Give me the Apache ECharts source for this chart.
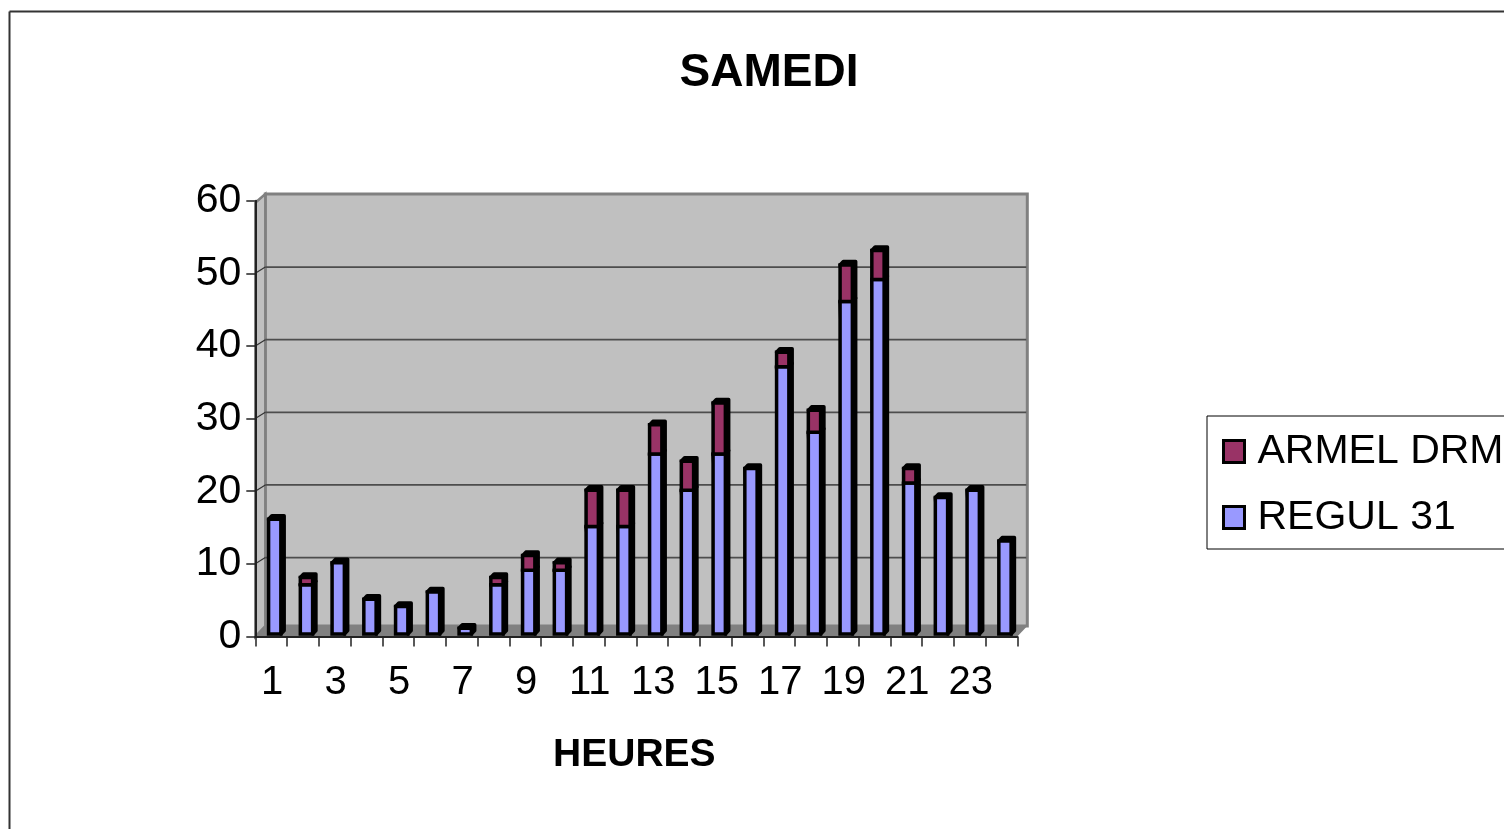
<!DOCTYPE html>
<html>
<head>
<meta charset="utf-8">
<style>html,body{margin:0;padding:0;background:#fff;overflow:hidden}#c{width:1504px;height:829px}</style>
<script src="https://cdn.jsdelivr.net/npm/echarts@6/dist/echarts.min.js"></script>
</head>
<body>
<div id="c"></div>
<script>
const hours = ['1','2','3','4','5','6','7','8','9','10','11','12','13','14','15','16','17','18','19','20','21','22','23','24'];
const regul = [16,7,10,5,4,6,1,7,9,9,15,15,25,20,25,23,37,28,46,49,21,19,20,13];
const armel = [0,1,0,0,0,0,0,1,2,1,5,5,4,4,7,0,2,3,5,4,2,0,0,0];
const yTicks = [0,10,20,30,40,50,60];

const BLUE = '#9999FF', MAROON = '#993366', WALL = '#C0C0C0', EDGE = '#808080';
const font = '"Liberation Sans", Arial, sans-serif';

function renderWalls(params, api) {
  const g = params.coordSys;
  const L = g.x, R = g.x + g.width, T = g.y, B = g.y + g.height;
  const dx = 10, dyTop = 6.7, dyFloor = 10.5;
  const children = [
    {type:'polygon', shape:{points:[[L+dx,T-dyTop],[R+dx,T-dyTop],[R+dx,B-dyFloor],[L+dx,B-dyFloor]]},
      style:{fill:WALL, stroke:EDGE, lineWidth:3}},
    {type:'polygon', shape:{points:[[L,T+2],[L+dx,T-dyTop],[L+dx,B-dyFloor],[L,B]]},
      style:{fill:WALL, stroke:EDGE, lineWidth:2.5}},
    {type:'polygon', shape:{points:[[L,B],[L+dx,B-dyFloor],[R+dx,B-dyFloor],[R,B]]},
      style:{fill:EDGE}}
  ];
  yTicks.forEach(function (v) {
    if (v === 0 || v === 60) return;
    const y = api.coord([0, v])[1];
    children.push({type:'line', shape:{x1:L+dx,y1:y-6.3,x2:R+dx-1,y2:y-6.3}, style:{stroke:'#4d4d4d',lineWidth:1.8}});
    children.push({type:'line', shape:{x1:L,y1:y,x2:L+dx,y2:y-6.3}, style:{stroke:'#333333',lineWidth:1.2}});
  });
  return {type:'group', children:children};
}

function renderBar(color) {
  return function (params, api) {
    const i = api.value(0), lo = api.value(1), hi = api.value(2);
    if (hi <= lo) return null;
    const c = api.coord([i, hi]);
    const base = api.coord([i, lo]);
    const x0 = c[0] - 2.6, x1 = x0 + 12.3, yT = c[1] - 1, yB = lo === 0 ? base[1] - 2.5 : base[1] - 1;
    const dx = 3.3, dy = 3.5;
    return {type:'group', children:[
      {type:'polygon', shape:{points:[[x0,yT],[x0+dx,yT-dy],[x1+dx,yT-dy],[x1+dx,yB-dy],[x1,yB]]},
        style:{fill:'#000',stroke:'#000',lineWidth:3.5,lineJoin:'round'}},
      {type:'rect', shape:{x:x0,y:yT,width:x1-x0,height:yB-yT},
        style:{fill:color,stroke:'#000',lineWidth:3.5}}
    ]};
  };
}

const regulData = hours.map(function (h, i) { return [i, 0, regul[i]]; });
const armelData = hours.map(function (h, i) { return [i, regul[i], regul[i] + armel[i]]; });

const chart = echarts.init(document.getElementById('c'), null, {renderer:'canvas'});
chart.setOption({
  animation:false,
  backgroundColor:'#fff',
  title:{text:'SAMEDI', left:764, top:45, textAlign:'center',
    textStyle:{fontFamily:font,fontSize:46,fontWeight:'bold',color:'#000'}},
  legend:{
    orient:'vertical', left:1207, top:416,
    data:['ARMEL DRM','REGUL 31'],
    icon:'rect', itemWidth:21, itemHeight:22, itemGap:25, selectedMode:false,
    padding:[15,60,11,15],
    borderColor:'#000', borderWidth:1, backgroundColor:'#fff',
    textStyle:{fontFamily:font,fontSize:41,color:'#000',lineHeight:24,padding:[0,0,12,8]},
    itemStyle:{borderColor:'#000',borderWidth:3}
  },
  grid:{left:255.3,top:200.7,width:762,height:435.8,containLabel:false},
  xAxis:{
    type:'category', data:hours, boundaryGap:true, z:5,
    name:'HEURES', nameLocation:'middle', nameGap:99,
    nameTextStyle:{fontFamily:font,fontSize:39,fontWeight:'bold',color:'#000',padding:[0,4,0,0]},
    axisLine:{lineStyle:{color:'#222',width:2}},
    axisTick:{show:true,length:10,interval:0,lineStyle:{color:'#222',width:1.5}},
    axisLabel:{interval:1,margin:26,fontFamily:font,fontSize:40,color:'#000',padding:[0,0,0,2]},
    splitLine:{show:false}
  },
  yAxis:{
    type:'value', min:0, max:60, interval:10, z:5,
    axisLine:{show:true,lineStyle:{color:'#222',width:2}},
    axisTick:{show:true,length:9,lineStyle:{color:'#222',width:1.5}},
    axisLabel:{margin:14,fontFamily:font,fontSize:41,color:'#000',padding:[4,0,0,0]},
    splitLine:{show:false}
  },
  series:[
    {type:'custom', name:'walls', z:1, silent:true, renderItem:renderWalls, data:[[0,0]],
      encode:{x:0,y:1}, tooltip:{show:false}},
    {type:'custom', name:'REGUL 31', z:3, renderItem:renderBar(BLUE), data:regulData,
      itemStyle:{color:BLUE}, encode:{x:0,y:[1,2]}},
    {type:'custom', name:'ARMEL DRM', z:4, renderItem:renderBar(MAROON), data:armelData,
      itemStyle:{color:MAROON}, encode:{x:0,y:[1,2]}}
  ],
  graphic:[
    {type:'line', z:100, shape:{x1:9.5,y1:11.5,x2:1504,y2:11.5}, style:{stroke:'#333',lineWidth:2}},
    {type:'line', z:100, shape:{x1:9.5,y1:11.5,x2:9.5,y2:829}, style:{stroke:'#333',lineWidth:2}}
  ]
});
</script>
</body>
</html>
